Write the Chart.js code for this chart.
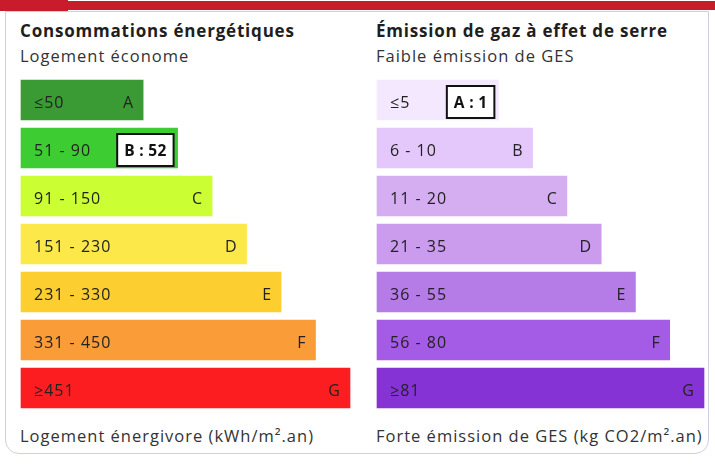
<!DOCTYPE html>
<html lang="fr">
<head>
<meta charset="utf-8">
<script src="https://cdn.jsdelivr.net/npm/chart.js@4"></script>
<style>
  body { margin: 0; width: 715px; height: 466px; background: #fff; position: relative; overflow: hidden;
         font-family: "Open Sans", "Noto Sans", sans-serif; color: #222; }
  .band { position: absolute; left: 0; top: 1px; width: 715px; height: 9px; background: #c81b2b; }
  .tab { position: absolute; left: 0; top: 0; width: 68px; height: 11px; background: #c81b2b; }
  .card { position: absolute; left: 5px; top: 11px; width: 704px; height: 443px; border: 1px solid #cfcfe0;
          border-radius: 0 0 14px 14px; box-sizing: border-box; }
  .txt { position: absolute; white-space: nowrap; line-height: 1; }
  .title { font-weight: 700; font-size: 17px; letter-spacing: 0.8px; color: #1e1e1e; }
  .sub { font-size: 16.5px; letter-spacing: 1px; color: #333; }
  canvas { position: absolute; }
</style>
</head>
<body>
<div class="band"></div>
<div class="tab"></div>
<div class="card"></div>

<div class="txt title" style="left:20px; top:22px;">Consommations énergétiques</div>
<div class="txt sub" style="left:20px; top:48px;">Logement économe</div>
<div class="txt sub" style="left:20px; top:428px;">Logement énergivore (kWh/m².an)</div>

<div class="txt title" style="left:376px; top:22px;">Émission de gaz à effet de serre</div>
<div class="txt sub" style="left:376px; top:48px;">Faible émission de GES</div>
<div class="txt sub" style="left:376px; top:428px;">Forte émission de GES (kg CO2/m².an)</div>

<canvas id="energyChart" width="331" height="336" style="left:20px; top:76px;"></canvas>
<canvas id="gesChart" width="329" height="336" style="left:376px; top:76px;"></canvas>

<script>
/* ================= DATA ================= */
const classes = ['A', 'B', 'C', 'D', 'E', 'F', 'G'];
// bar length grows one step per class
const barLengths = [36, 46, 56, 66, 76, 86, 96];

const energyRanges = ['≤50', '51 - 90', '91 - 150', '151 - 230', '231 - 330', '331 - 450', '≥451'];
const energyColors = ['#3a9b35', '#3dcd33', '#ccff33', '#fde84a', '#fcce30', '#fa9c38', '#fc1d21'];
const energyValue = 52;      // logement : classe B
const energyClass = 'B';

const gesRanges = ['≤5', '6 - 10', '11 - 20', '21 - 35', '36 - 55', '56 - 80', '≥81'];
const gesColors = ['#f3e8fd', '#e4c8fb', '#d5aef2', '#cb9bee', '#b57ce8', '#a45be6', '#8633d6'];
const gesValue = 1;          // classe A
const gesClass = 'A';

/* ================= LABEL PLUGIN ================= */
// writes the range on the left of each bar, the letter on the right,
// and a white box with "X : value" for the class of the logement
const barLabels = {
    id: 'barLabels',
    afterDatasetsDraw(chart, args, opts) {
        const ctx = chart.ctx;
        const bars = chart.getDatasetMeta(0).data;
        ctx.save();
        ctx.textBaseline = 'alphabetic';
        bars.forEach((bar, i) => {
            const y = bar.y;
            ctx.fillStyle = '#222';
            ctx.font = '16px "Open Sans", "Noto Sans", sans-serif';
            ctx.letterSpacing = '1px';
            ctx.textAlign = 'left';
            ctx.fillText(opts.ranges[i], bar.base + 14, y + 8);

            if (classes[i] === opts.current) {
                const label = classes[i] + ' : ' + opts.value;
                ctx.font = 'bold 15.5px "Open Sans", "Noto Sans", sans-serif';
                ctx.letterSpacing = '0.3px';
                const w = ctx.measureText(label).width + 14;
                const h = 32;
                const right = bar.x - 5;
                ctx.fillStyle = '#fff';
                ctx.fillRect(right - w, y - 14, w, h);
                ctx.strokeStyle = '#111';
                ctx.lineWidth = 2;
                ctx.strokeRect(right - w, y - 14, w, h);
                ctx.fillStyle = '#111';
                ctx.textAlign = 'center';
                ctx.fillText(label, right - w / 2, y + 8);
            } else {
                ctx.letterSpacing = '0px';
                ctx.textAlign = 'right';
                ctx.fillText(classes[i], bar.x - 11, y + 8);
            }
        });
        ctx.restore();
    }
};

function makeChart(id, ranges, colors, current, value) {
    return new Chart(document.getElementById(id), {
        type: 'bar',
        data: {
            labels: classes,
            datasets: [{
                data: barLengths,
                backgroundColor: colors,
                borderColor: 'rgba(255,255,255,0.35)',
                borderWidth: 1,
                borderSkipped: false,
                barThickness: 42
            }]
        },
        options: {
            indexAxis: 'y',
            responsive: false,
            animation: false,
            layout: { padding: 0 },
            scales: {
                x: { display: false, min: 0, max: 96 },
                y: { display: false }
            },
            plugins: {
                legend: { display: false },
                tooltip: { enabled: false },
                barLabels: { ranges: ranges, current: current, value: value }
            }
        },
        plugins: [barLabels]
    });
}

makeChart('energyChart', energyRanges, energyColors, energyClass, energyValue);
makeChart('gesChart', gesRanges, gesColors, gesClass, gesValue);
</script>
</body>
</html>
